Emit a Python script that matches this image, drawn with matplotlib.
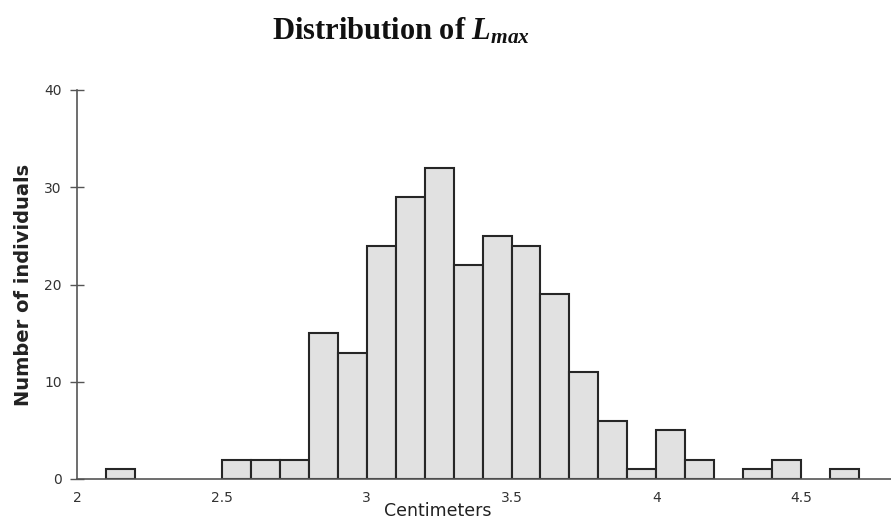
import numpy as np
import matplotlib
matplotlib.use("Agg")
import matplotlib.pyplot as plt

# histogram of L_max (left bin edges in cm, counts)
bin_left = [2.1, 2.5, 2.6, 2.7, 2.8, 2.9, 3.0, 3.1, 3.2, 3.3, 3.4, 3.5,
            3.6, 3.7, 3.8, 3.9, 4.0, 4.1, 4.3, 4.4, 4.6]
counts = [1, 2, 2, 2, 15, 13, 24, 29, 32, 22, 25, 24,
          19, 11, 6, 1, 5, 2, 1, 2, 1]
bin_width = 0.1

x_ticks = [2, 2.5, 3, 3.5, 4, 4.5]
x_tick_labels = ["2", "2.5", "3", "3.5", "4", "4.5"]
y_ticks = [0, 10, 20, 30, 40]

plt.rcParams['mathtext.fontset'] = 'custom'
plt.rcParams['mathtext.it'] = 'Liberation Serif:bold:italic'
plt.rcParams['mathtext.rm'] = 'Liberation Serif:bold'

fig = plt.figure(figsize=(8.91, 5.20), dpi=100, facecolor='white')
ax = fig.add_axes([77/891, 41/520, 1 - 77/891, 389/520])

ax.bar(bin_left, counts, width=bin_width, align='edge',
       color='#e1e1e1', edgecolor='#262626', linewidth=1.5)

ax.set_xlim(2, 4.81)
ax.set_ylim(0, 40)

# axes styling
for side in ['top', 'right']:
    ax.spines[side].set_visible(False)
ax.spines['left'].set_color('#555555')
ax.spines['bottom'].set_color('#555555')
ax.spines['left'].set_linewidth(1.2)
ax.spines['bottom'].set_linewidth(1.2)

ax.set_xticks(x_ticks)
ax.set_xticklabels(x_tick_labels)
ax.set_yticks(y_ticks)
ax.tick_params(axis='x', length=0, pad=9, labelsize=10, colors='#333333')
ax.tick_params(axis='y', direction='inout', length=10, width=1.0,
               pad=6, labelsize=10, colors='#555555', labelcolor='#333333')

ax.set_ylabel("Number of individuals", fontsize=14, fontweight='bold',
              color='#222222', labelpad=8)
fig.text(438/891, 1 - 511/520, "Centimeters", fontsize=12.5,
         ha='center', va='center', color='#222222')

fig.text(401/891, 1 - 31/520, r"Distribution of $L_{max}$",
         family='Liberation Serif', fontweight='bold', fontsize=22,
         ha='center', va='center', color='#111111')

plt.savefig("out.png", dpi=100, facecolor='white')
plt.close()
